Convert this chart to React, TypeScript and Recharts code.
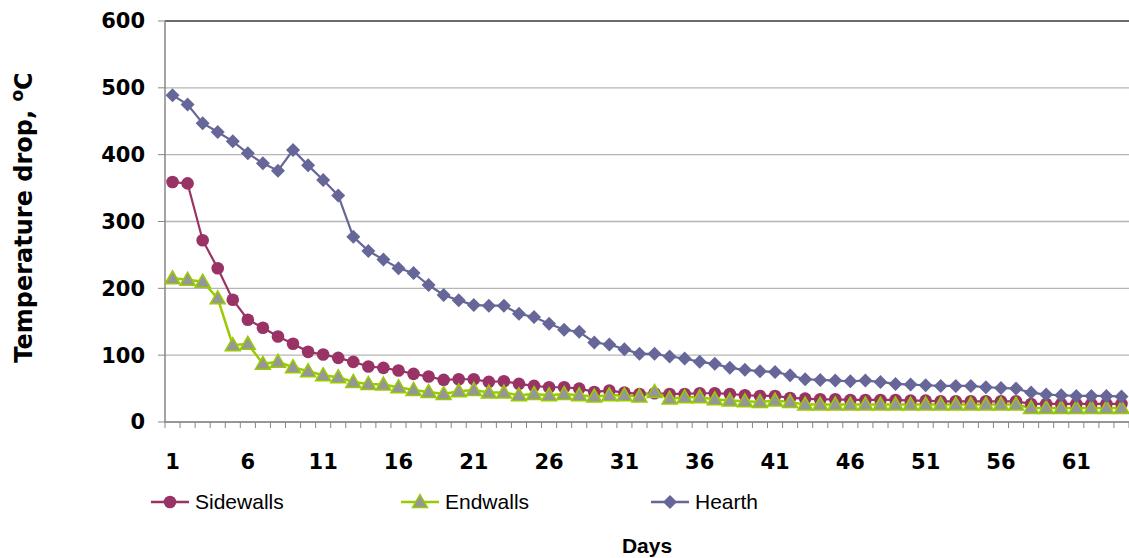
import { LineChart, Line, XAxis, YAxis, CartesianGrid, Legend, ReferenceLine } from "recharts";

// ── DATA ──────────────────────────────────────────────────────
const DAYS = [
  1, 2, 3, 4, 5, 6, 7, 8, 9, 10, 11, 12, 13, 14, 15, 16, 17, 18, 19, 20,
  21, 22, 23, 24, 25, 26, 27, 28, 29, 30, 31, 32, 33, 34, 35, 36, 37, 38, 39, 40,
  41, 42, 43, 44, 45, 46, 47, 48, 49, 50, 51, 52, 53, 54, 55, 56, 57, 58, 59, 60,
  61, 62, 63, 64,
];

const SIDEWALLS = [
  359, 357, 272, 230, 183, 153, 141, 128, 117, 105, 101, 96, 90, 83, 81, 77, 72, 68, 63, 64,
  64, 60, 61, 57, 54, 52, 52, 50, 45, 47, 44, 42, 43, 42, 42, 43, 43, 42, 40, 39,
  39, 36, 35, 34, 34, 33, 33, 33, 33, 32, 32, 31, 31, 31, 31, 31, 31, 27, 27, 27,
  27, 27, 27, 27,
];

const ENDWALLS = [
  215, 213, 210, 185, 115, 117, 87, 90, 82, 76, 70, 67, 60, 57, 56, 52, 48, 45, 42, 46,
  48, 44, 44, 40, 42, 40, 42, 40, 38, 40, 40, 38, 45, 35, 37, 37, 34, 32, 31, 30,
  32, 30, 26, 26, 26, 26, 26, 26, 26, 26, 26, 26, 26, 26, 26, 26, 26, 21, 21, 21,
  21, 21, 21, 21,
];

const HEARTH = [
  489, 475, 447, 434, 420, 402, 387, 376, 407, 384, 362, 339, 277, 256, 243, 230, 223, 205, 190, 182,
  175, 174, 174, 162, 157, 147, 138, 135, 119, 116, 109, 102, 102, 98, 95, 90, 87, 81, 78, 76,
  75, 70, 64, 63, 62, 61, 62, 60, 57, 56, 55, 54, 54, 54, 52, 51, 50, 44, 41, 40,
  39, 39, 39, 38,
];

const Y_TICKS = [0, 100, 200, 300, 400, 500, 600];
const X_TICK_LABELS = [1, 6, 11, 16, 21, 26, 31, 36, 41, 46, 51, 56, 61];

const data = DAYS.map((day, i) => ({
  day,
  sidewalls: SIDEWALLS[i],
  endwalls: ENDWALLS[i],
  hearth: HEARTH[i],
}));

// ── LAYOUT ────────────────────────────────────────────────────
const W = 1129;
const H = 558;
const MARGIN = { top: 21, right: 0, left: 25, bottom: 36 };
const Y_AXIS_W = 140;
const PLOT_W = W - MARGIN.left - Y_AXIS_W - MARGIN.right;
const STEP = PLOT_W / DAYS.length;

const BOLD_FONT = "'DejaVu Sans', Verdana, sans-serif";
const TEXT_FONT = "'Liberation Sans', Arial, sans-serif";

const SIDE_COLOR = "#993366";
const END_LINE = "#99cc00";
const END_FILL = "#969696";
const HEARTH_COLOR = "#666699";
const AXIS_GREY = "#868686";

// ── MARKERS ───────────────────────────────────────────────────
const CircleDot = ({ cx, cy }: any) =>
  cx == null ? null : <circle cx={cx} cy={cy} r={6.3} fill={SIDE_COLOR} />;

const TriangleDot = ({ cx, cy }: any) =>
  cx == null ? null : (
    <polygon
      points={`${cx},${cy - 7.5} ${cx + 7.5},${cy + 5.5} ${cx - 7.5},${cy + 5.5}`}
      fill={END_FILL}
      stroke={END_LINE}
      strokeWidth={1.5}
    />
  );

const DiamondDot = ({ cx, cy }: any) =>
  cx == null ? null : (
    <polygon
      points={`${cx},${cy - 7} ${cx + 7},${cy} ${cx},${cy + 7} ${cx - 7},${cy}`}
      fill={HEARTH_COLOR}
    />
  );

// ── X TICK: minor marks between days, labels every 5th ───────
const DayTick = ({ x, y, payload, index }: any) => {
  const show = X_TICK_LABELS.includes(payload.value);
  return (
    <g>
      <line x1={x - STEP / 2} x2={x - STEP / 2} y1={y} y2={y + 6} stroke={AXIS_GREY} strokeWidth={1} />
      {index === DAYS.length - 1 && (
        <line x1={x + STEP / 2} x2={x + STEP / 2} y1={y} y2={y + 6} stroke={AXIS_GREY} strokeWidth={1} />
      )}
      {show && (
        <text x={x} y={y + 47} textAnchor="middle" fontFamily={BOLD_FONT} fontWeight="bold" fontSize={21} fill="#000">
          {payload.value}
        </text>
      )}
    </g>
  );
};

// ── LEGEND ────────────────────────────────────────────────────
const LEGEND_ITEMS = [
  { name: "Sidewalls", color: SIDE_COLOR, Dot: CircleDot },
  { name: "Endwalls", color: END_LINE, Dot: TriangleDot },
  { name: "Hearth", color: HEARTH_COLOR, Dot: DiamondDot },
];

const renderLegend = () => (
  <div style={{ display: "flex", alignItems: "center", height: 40, paddingLeft: 151 }}>
    {LEGEND_ITEMS.map(({ name, color, Dot }) => (
      <div key={name} style={{ display: "flex", alignItems: "center", width: 250 }}>
        <svg width={38} height={18}>
          <line x1={0} x2={38} y1={9} y2={9} stroke={color} strokeWidth={2.5} />
          <Dot cx={19} cy={9} />
        </svg>
        <span style={{ marginLeft: 6, fontFamily: TEXT_FONT, fontSize: 21, color: "#000" }}>{name}</span>
      </div>
    ))}
  </div>
);

const YLabel = ({ viewBox }: any) => {
  const cy = viewBox.y + viewBox.height / 2 - 4;
  return (
    <text
      x={32}
      y={cy}
      transform={`rotate(-90, 32, ${cy})`}
      textAnchor="middle"
      fontFamily={BOLD_FONT}
      fontWeight="bold"
      fontSize={24}
      fill="#000"
    >
      Temperature drop, <tspan dy={-9} fontSize={17}>o</tspan>
      <tspan dy={9}>C</tspan>
    </text>
  );
};

const DaysLabel = ({ viewBox }: any) => (
  <text
    x={viewBox.x + viewBox.width / 2}
    y={553}
    textAnchor="middle"
    fontFamily={TEXT_FONT}
    fontWeight="bold"
    fontSize={21}
    fill="#000"
  >
    Days
  </text>
);

export default function App() {
  return (
    <div>
      <style>{"body{margin:0;overflow:hidden;background:#fff}"}</style>
      <LineChart width={W} height={H} data={data} margin={MARGIN}>
        <CartesianGrid vertical={false} stroke="#b5b5b5" strokeWidth={1.3} />
        <ReferenceLine y={600} stroke="#4d4d4d" strokeWidth={1.5} />
        <XAxis
          dataKey="day"
          interval={0}
          height={60}
          padding={{ left: STEP / 2, right: STEP / 2 }}
          tickSize={0}
          tickMargin={0}
          tickLine={false}
          tick={<DayTick />}
          axisLine={{ stroke: AXIS_GREY, strokeWidth: 1.5 }}
          label={<DaysLabel />}
        />
        <YAxis
          width={Y_AXIS_W}
          domain={[0, 600]}
          ticks={Y_TICKS}
          interval={0}
          tickSize={7}
          tickMargin={13}
          tickLine={{ stroke: AXIS_GREY }}
          axisLine={{ stroke: AXIS_GREY, strokeWidth: 1.5 }}
          tick={{ fontFamily: BOLD_FONT, fontWeight: "bold", fontSize: 21, fill: "#000" }}
          label={<YLabel />}
        />
        <Legend verticalAlign="bottom" height={40} content={renderLegend} wrapperStyle={{ left: 0, width: W }} />
        <Line
          dataKey="sidewalls"
          name="Sidewalls"
          stroke={SIDE_COLOR}
          strokeWidth={2.2}
          dot={<CircleDot />}
          activeDot={false}
          isAnimationActive={false}
        />
        <Line
          dataKey="endwalls"
          name="Endwalls"
          stroke={END_LINE}
          strokeWidth={2.5}
          dot={<TriangleDot />}
          activeDot={false}
          isAnimationActive={false}
        />
        <Line
          dataKey="hearth"
          name="Hearth"
          stroke={HEARTH_COLOR}
          strokeWidth={2.2}
          dot={<DiamondDot />}
          activeDot={false}
          isAnimationActive={false}
        />
      </LineChart>
    </div>
  );
}
